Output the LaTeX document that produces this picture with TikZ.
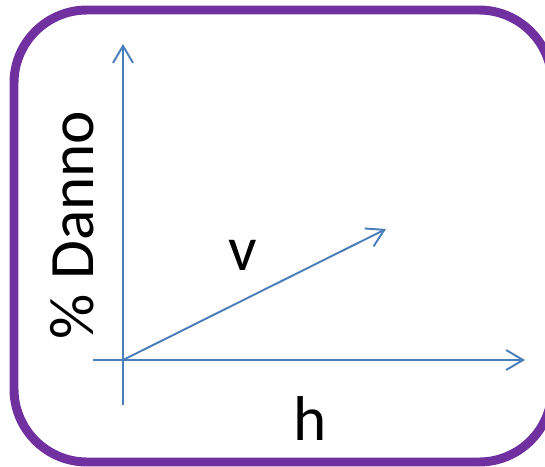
\documentclass[tikz,border=0pt]{standalone}
\usepackage{fontspec}
\setmainfont{Carlito}
\usetikzlibrary{arrows.meta}
\definecolor{frameViolet}{HTML}{7030A0}
\definecolor{axisBlue}{HTML}{4A7EBB}

\begin{document}
\begin{tikzpicture}[
                x=0.02cm, y=-0.02cm,
                frame/.style={draw=frameViolet, line width=5.1pt, rounded corners=1.46cm},
                axis/.style={draw=axisBlue, line width=1.1pt,
                             -{Straight Barb[length=0.34cm, width=0.4cm, line width=1.1pt]}},
                label/.style={font=\fontsize{36}{40}\selectfont, inner sep=0pt}
            ]
                \useasboundingbox (0,0) rectangle (545,467);
                \clip (0,0) rectangle (545,467);
                \draw[frame] (14,10) rectangle (552,462);
                % axes
                \coordinate (origin) at (123,360);
                \coordinate (ybot) at (123,405);
                \coordinate (ytop) at (123,44);
                \coordinate (xleft) at (93,360);
                \coordinate (xright) at (525,360);
                \coordinate (vtip) at (386,229);
                \draw[axis] (ybot) -- (ytop);
                \draw[axis] (xleft) -- (xright);
                \draw[axis] (origin) -- (vtip);
                % labels
                \node[label, rotate=90] (danno) at (72,225) {\% Danno};
                \node[label, anchor=base] (vlab) at (243,270) {v};
                \node[label, anchor=base] (hlab) at (310,440) {h};
            \end{tikzpicture}
\end{document}
